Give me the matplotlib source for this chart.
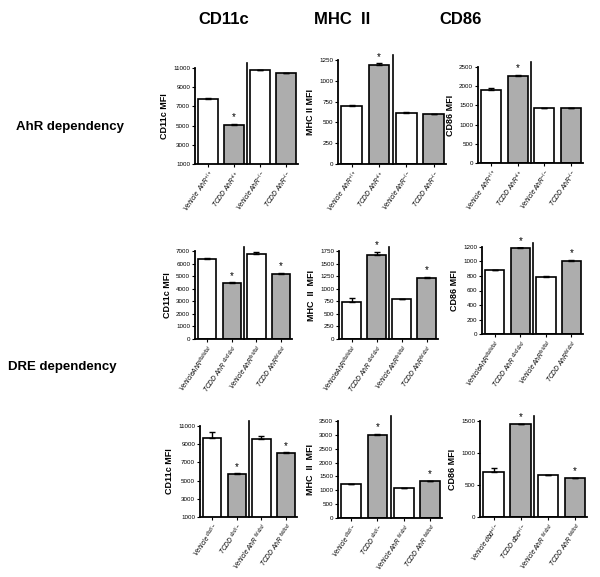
import numpy as np
import matplotlib
matplotlib.use("Agg")
import matplotlib.pyplot as plt

plt.rcParams["font.family"] = ["Liberation Sans", "DejaVu Sans"]
plt.rcParams["mathtext.fontset"] = "custom"
plt.rcParams["mathtext.rm"] = "Liberation Sans"
plt.rcParams["mathtext.it"] = "Liberation Sans:italic"

# column titles, row titles
markers = ["CD11c", "MHC  II", "CD86"]
ylabels = ["CD11c MFI", "MHC II MFI", "CD86 MFI"]
ylabels_r2 = ["CD11c MFI", "MHC  II  MFI", "CD86 MFI"]
rows = ["AhR dependency", "DRE dependency"]

# labels per row
labels_r1 = [r"Vehicle  AhR$^{+/+}$", r"TCDD AhR$^{+/+}$",
             r"Vehicle AhR$^{-/-}$", r"TCDD AhR$^{-/-}$"]
labels_r2 = [r"VehicleAhR$^{dbd/dbd}$", r"TCDD AhR $^{dbd/dbd}$",
             r"Vehicle AhR$^{fx/dbd}$", r"TCDD AhR$^{fx/dbd}$"]
labels_r3 = [r"Vehicle $^{dbd/-}$", r"TCDD $^{dbd/-}$",
             r"Vehicle AhR $^{fx/dbd}$", r"TCDD AhR $^{fx/dbd}$"]
labels_r3b = [r"Vehicle dbd$^{+/-}$", r"TCDD dbd$^{+/-}$",
              r"Vehicle AhR $^{fx/dbd}$", r"TCDD AhR $^{fx/dbd}$"]

# values and errors (row, column)
vals = [
    [[7750, 5100, 10750, 10450], [700, 1185, 615, 600], [1900, 2270, 1430, 1430]],
    [[6350, 4450, 6800, 5200], [730, 1680, 790, 1220], [880, 1190, 790, 1010]],
    [[9700, 5700, 9600, 8050], [1220, 3000, 1070, 1340], [710, 1450, 650, 610]],
]
errs = [
    [[150, 80, 80, 50], [5, 25, 5, 5], [50, 30, 5, 5]],
    [[80, 80, 100, 60], [90, 60, 10, 20], [5, 5, 5, 15]],
    [[600, 100, 250, 60], [15, 40, 20, 5], [60, 5, 5, 5]],
]
stars = [[1], [1, 3], [1, 3]]

ylims = [
    [(1000, 11000), (0, 1250), (0, 2500)],
    [(0, 7000), (0, 1750), (0, 1200)],
    [(1000, 11000), (0, 3500), (0, 1500)],
]
yticks = [
    [np.arange(1000, 11001, 2000), np.arange(0, 1251, 250), np.arange(0, 2501, 500)],
    [np.arange(0, 7001, 1000), np.arange(0, 1751, 250), np.arange(0, 1201, 200)],
    [np.arange(1000, 11001, 2000), np.arange(0, 3501, 500), np.arange(0, 1501, 500)],
]

# axes boxes in pixels: left, right, top, bottom
boxes = [
    [(195, 298, 68, 164), (338, 446, 60, 164), (478, 583, 67, 163)],
    [(195, 292, 251, 339), (339, 438, 251, 339), (482, 583, 247, 334)],
    [(200, 297, 426, 517), (338, 442, 421, 518), (480, 587, 421, 517)],
]

W, H = 600, 577
fig = plt.figure(figsize=(W / 100, H / 100), dpi=100)

for r in range(3):
    for c in range(3):
        l, rr, t, b = boxes[r][c]
        ax = fig.add_axes([l / W, 1 - b / H, (rr - l) / W, (b - t) / H])
        v = vals[r][c]
        e = errs[r][c]
        x = np.arange(4)
        cols = ["white", "#adadad", "white", "#adadad"]
        ax.bar(x, v, width=0.75, color=cols, edgecolor="black", linewidth=1.2, zorder=2)
        ax.errorbar(x, v, yerr=[np.zeros(4), e], fmt="none", ecolor="black",
                    elinewidth=1, capsize=2.5, capthick=1, zorder=3)
        ax.set_xlim(-0.5, 3.45)
        ax.set_ylim(*ylims[r][c])
        ax.set_yticks(yticks[r][c])
        ax.axvline(1.5, ymin=0, ymax=1.05, color="black", lw=1.2, clip_on=False)
        span = ylims[r][c][1] - ylims[r][c][0]
        for s in stars[r]:
            ax.text(s, v[s] + e[s] + span * 0.015, "*", ha="center", va="bottom", fontsize=7)
        for side in ["top", "right"]:
            ax.spines[side].set_visible(False)
        ax.spines["left"].set_linewidth(1.3)
        ax.spines["bottom"].set_linewidth(1.3)
        ax.tick_params(axis="both", length=2.5, width=0.8, labelsize=4.5, pad=1)
        if r == 0:
            labs = labels_r1
        elif r == 1:
            labs = labels_r2
        else:
            labs = labels_r3b if c == 2 else labels_r3
        ax.set_xticks(x)
        ax.set_xticklabels(labs, rotation=55, ha="right", rotation_mode="anchor",
                           fontstyle="italic", fontsize=4.8)
        yl = ylabels_r2[c] if r > 0 else ylabels[c]
        ax.set_ylabel(yl, fontsize=6.5, fontweight="bold", labelpad=3)

title_x = [224, 342, 461]
for name, tx in zip(markers, title_x):
    fig.text(tx / W, 1 - 20 / H, name, ha="center", va="center",
             fontsize=12, fontweight="bold")

fig.text(16 / W, 1 - 127 / H, rows[0], ha="left", va="center", fontsize=9.5,
         fontweight="bold")
fig.text(8 / W, 1 - 367 / H, rows[1], ha="left", va="center", fontsize=9.5,
         fontweight="bold")

fig.savefig("out.png", dpi=100)
